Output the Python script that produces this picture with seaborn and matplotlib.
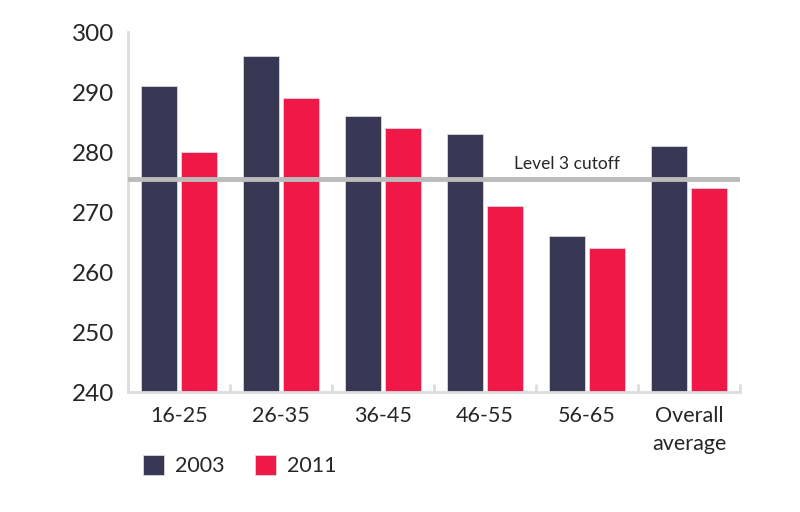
import matplotlib
matplotlib.use("Agg")
import matplotlib.pyplot as plt
import seaborn as sns
import pandas as pd

# Literacy scores by age group
age_groups = ["16-25", "26-35", "36-45", "46-55", "56-65", "Overall\naverage"]
scores_2003 = [291, 296, 286, 283, 266, 281]
scores_2011 = [280, 289, 284, 271, 264, 274]
years = ["2003", "2011"]
cutoff = 275.5

df = pd.DataFrame({
    "group": age_groups * 2,
    "score": scores_2003 + scores_2011,
    "year": [years[0]] * len(age_groups) + [years[1]] * len(age_groups),
})

sns.set_style("white")
plt.rcParams["font.family"] = ["Lato", "DejaVu Sans"]

fig = plt.figure(figsize=(8, 5.12), dpi=100)
ax = fig.add_axes([0.16, 0.234, 0.765, 0.703])

sns.barplot(data=df, x="group", y="score", hue="year",
            palette=["#383854", "#ef1846"], saturation=1, width=0.78, gap=0.08,
            edgecolor="#d8d8e0", linewidth=0.6, ax=ax, legend=True)

ax.set_ylim(240, 300)
ax.set_yticks(range(240, 301, 10))
ax.set_xlim(-0.5, len(age_groups) - 0.5)
ax.axhline(cutoff, color="#bbbbbb", lw=3.5, zorder=3)
ax.text(3.8, cutoff + 1.2, "Level 3 cutoff", ha="center", va="bottom",
        fontsize=12.5, zorder=5)

for s in ["top", "right"]:
    ax.spines[s].set_visible(False)
for s in ["left", "bottom"]:
    ax.spines[s].set_color("#dddddd")
    ax.spines[s].set_linewidth(2)

ax.set_xticks([i - 0.5 for i in range(len(age_groups) + 1)], minor=True)
ax.tick_params(axis="x", which="minor", direction="in", length=6, width=2, color="#dddddd", bottom=True)
ax.tick_params(axis="x", which="major", length=0, labelsize=15.5, pad=10)
ax.tick_params(axis="y", length=0, labelsize=17.5, pad=10)
for lbl in ax.get_xticklabels():
    lbl.set_linespacing(1.5)
ax.set_xlabel("")
ax.set_ylabel("")

handles, labels = ax.get_legend_handles_labels()
ax.get_legend().remove()
fig.legend(handles, labels, loc="center left", bbox_to_anchor=(0.154, 0.09), ncol=2,
           frameon=False, fontsize=15.5, handlelength=1.0, handleheight=1.0,
           columnspacing=1.4, handletextpad=0.5)

fig.savefig("out.png", dpi=100)
